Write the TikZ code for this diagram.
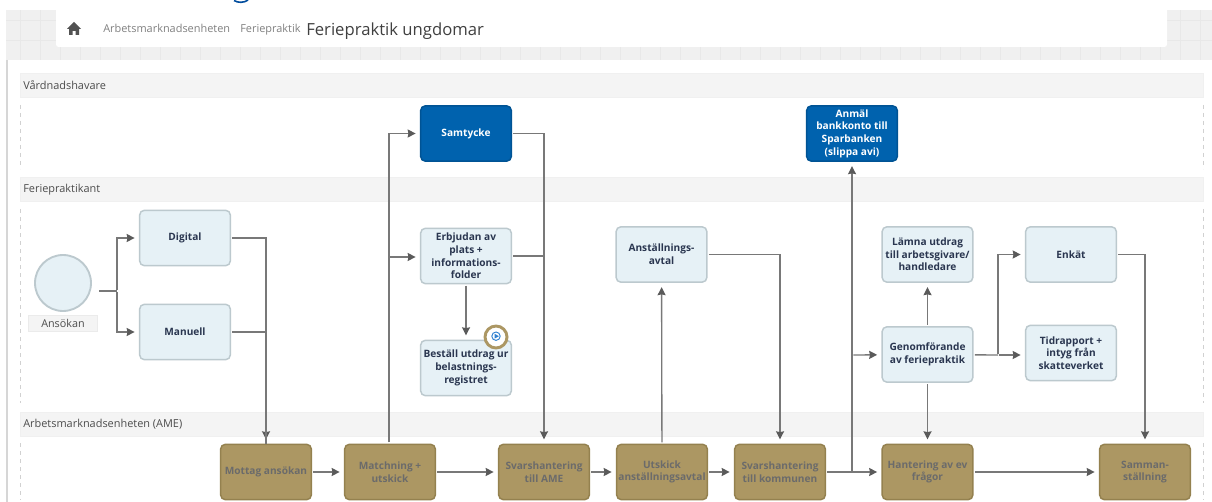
\documentclass[tikz,border=0pt]{standalone}
\usepackage{fontspec}
\setmainfont{Open Sans}
\usetikzlibrary{arrows.meta}
\definecolor{bluebox}{HTML}{E6F1F6}
\definecolor{blueline}{HTML}{BCC9CE}
\definecolor{darkbox}{HTML}{0062AE}
\definecolor{brownbox}{HTML}{AC9763}
\definecolor{brownline}{HTML}{94814F}
\definecolor{laneband}{HTML}{F4F4F4}
\definecolor{flowline}{HTML}{787878}
\definecolor{tiptone}{HTML}{5A5A5A}
\definecolor{tasktext}{HTML}{2A3650}
\definecolor{iconblue}{HTML}{2F80D0}
\tikzset{
    task/.style={draw=blueline, fill=bluebox, line width=1.1pt, rounded corners=3.5pt, minimum width=68pt, minimum height=41.5pt, inner sep=0pt, align=center, font=\bfseries\fontsize{7.6}{9.5}\selectfont, text=tasktext},
    vtask/.style={task, draw=darkbox!85!black, fill=darkbox, text=white},
    atask/.style={task, draw=brownline, fill=brownbox, text=black!58},
    band/.style={fill=laneband, draw=black!6, minimum height=18pt, minimum width=887pt, inner sep=0pt},
    lanetext/.style={anchor=base west, inner sep=0pt, font=\fontsize{8.2}{10}\selectfont, text=black!70},
    flow/.style={draw=flowline, line width=1pt, shorten >=3.2pt, shorten <=1pt, -{Stealth[length=6pt,width=6pt,inset=0.6pt,color=tiptone]}},
    plain/.style={draw=flowline, line width=1pt, shorten <=1pt},
    lane/.style={draw=black!18, dashed, line width=0.3pt}
}
\begin{document}
\begin{tikzpicture}[x=0.75pt,y=-0.75pt]
    \useasboundingbox (0,0) rectangle (1212,502);

    % Page background
    \fill[black!6] (6,10) rectangle (1212,60);
    \draw[black!9, line width=0.5pt, xstep=15pt, ystep=15pt] (6,10) grid (1212,60);
    \fill[white] (8,60) rectangle (1212,502);
    \fill[white, rounded corners=2pt] (56,5) rectangle (1167,47);
    \fill[white] (0,0) rectangle (1212,10);
    \draw[black!16, line width=0.8pt] (7,60) -- (7,502);

    % Heading cut off at the top edge
    \draw[blue!45!black!70!cyan, line width=1.2pt] (234,0.5) .. controls (238,3) and (244,3) .. (248,0);

    % Header
    \fill[black!68] (74,22) -- (81,29) -- (79,29) -- (79,35) -- (75.5,35) -- (75.5,31) -- (72.5,31) -- (72.5,35) -- (69,35) -- (69,29) -- (67,29) -- cycle;
    \node[lanetext, font=\fontsize{8.2}{10}\selectfont, text=black!50] (crumba) at (103,33) {Arbetsmarknadsenheten};
    \node[lanetext, font=\fontsize{8.2}{10}\selectfont, text=black!50] (crumbb) at (240,33) {Feriepraktik};
    \node[lanetext, font=\fontsize{12.5}{14}\selectfont, text=black!75] (pagetitle) at (306,36) {Feriepraktik ungdomar};

    % Lanes
    \node[band] (bandv) at (611.5,85) {};
    \node[band] (bandf) at (611.5,189.5) {};
    \node[band] (banda) at (611.5,424) {};
    \node[lanetext] (lanev) at (23,90) {Vårdnadshavare};
    \node[lanetext] (lanef) at (23,192.5) {Feriepraktikant};
    \node[lanetext] (lanea) at (23,427.5) {Arbetsmarknadsenheten (AME)};
    \draw[lane] (20,105) -- (20,169) (1203,105) -- (1203,169);
    \draw[lane] (20,209) -- (20,403) (1203,209) -- (1203,403);
    \draw[lane] (20,443) -- (20,500) (1203,443) -- (1203,500);

    % Start event
    \node[circle, draw=blueline, fill=bluebox, line width=1.4pt, minimum size=42pt, inner sep=0pt] (ansokan) at (63,283) {};
    \node[fill=laneband, draw=black!8, minimum width=52pt, minimum height=12pt, inner sep=0pt, font=\fontsize{8.1}{9}\selectfont, text=black!70] (ansokanlabel) at (63,323) {Ansökan};

    % Guardian tasks
    \node[vtask] (samtycke) at (466,133.5) {Samtycke};
    \node[vtask] (anmal) at (852,133.5) {Anmäl\\bankkonto till\\Sparbanken\\(slippa avi)};

    % Intern tasks
    \node[task] (digital) at (185,238) {Digital};
    \node[task] (manuell) at (185,332) {Manuell};
    \node[task] (erbjudan) at (466,256) {Erbjudan av\\plats +\\informations-\\folder};
    \node[task] (bestall) at (466,368) {Beställ utdrag ur\\belastnings-\\registret};
    \node[task] (avtal) at (661.5,254.5) {Anställnings-\\avtal};
    \node[task] (lamna) at (927.5,254.5) {Lämna utdrag\\till arbetsgivare/\\handledare};
    \node[task] (enkat) at (1071,254.5) {Enkät};
    \node[task] (genomforande) at (927.5,354.5) {Genomförande\\av feriepraktik};
    \node[task] (tidrapport) at (1071,353) {Tidrapport +\\intyg från\\skatteverket};

    % AME tasks
    \node[atask] (mottag) at (266,472) {Mottag ansökan};
    \node[atask] (matchning) at (390,472) {Matchning +\\utskick};
    \node[atask] (svarame) at (544,472) {Svarshantering\\till AME};
    \node[atask] (utskick) at (662,472) {Utskick\\anställningsavtal};
    \node[atask] (svarkommun) at (780,472) {Svarshantering\\till kommunen};
    \node[atask] (hantering) at (927.5,472) {Hantering av ev\\frågor};
    \node[atask] (samman) at (1145,472) {Samman-\\ställning};

    % Badge on the order task
    \node[circle, draw=brownbox, fill=white, line width=2.2pt, minimum size=16.5pt, inner sep=0pt] (badge) at (496,337) {};
    \draw[iconblue, line width=0.7pt] (badge) ++(0,-0.8) circle (4.2);
    \fill[iconblue] (494.5,333.8) -- (499,336.2) -- (494.5,338.6) -- cycle;

    % Connectors
    \coordinate (fork) at (117,291);
    \coordinate (forkstart) at (98,291);
    \draw[plain] (forkstart) -- (fork);
    \draw[flow] (fork) |- (digital);
    \draw[flow] (fork) |- (manuell);
    \draw[flow] (digital) -| (mottag);
    \draw[plain] (manuell) -| (mottag);
    \draw[flow] (mottag) -- (matchning);
    \draw[flow] (matchning) -- (svarame);
    \draw[flow] (matchning.north -| 389,0) |- (samtycke);
    \coordinate (offer) at (389,257);
    \draw[flow] (offer) -- (offer -| erbjudan.west);
    \draw[plain] (erbjudan) -- (erbjudan -| svarame);
    \draw[flow] (samtycke) -| (svarame);
    \draw[flow] (erbjudan) -- (bestall);
    \draw[flow] (svarame) -- (utskick);
    \draw[flow] (utskick) -- (avtal);
    \draw[flow] (avtal) -| (svarkommun);
    \draw[flow] (utskick) -- (svarkommun);
    \draw[flow] (svarkommun) -- (hantering);
    \coordinate (branch) at (852,472);
    \draw[flow] (branch) -- (anmal);
    \coordinate (branchb) at (852,355);
    \draw[flow] (branchb) -- (genomforande);
    \draw[flow] (genomforande) -- (lamna);
    \draw[flow] (genomforande) -- (hantering);
    \coordinate (forkb) at (998,355);
    \draw[plain] (genomforande) -- (forkb);
    \draw[flow] (forkb) |- (enkat);
    \draw[flow] (forkb) -- (forkb -| tidrapport.west);
    \draw[flow] (enkat) -| (samman);
    \draw[flow] (hantering) -- (samman);
\end{tikzpicture}
\end{document}
